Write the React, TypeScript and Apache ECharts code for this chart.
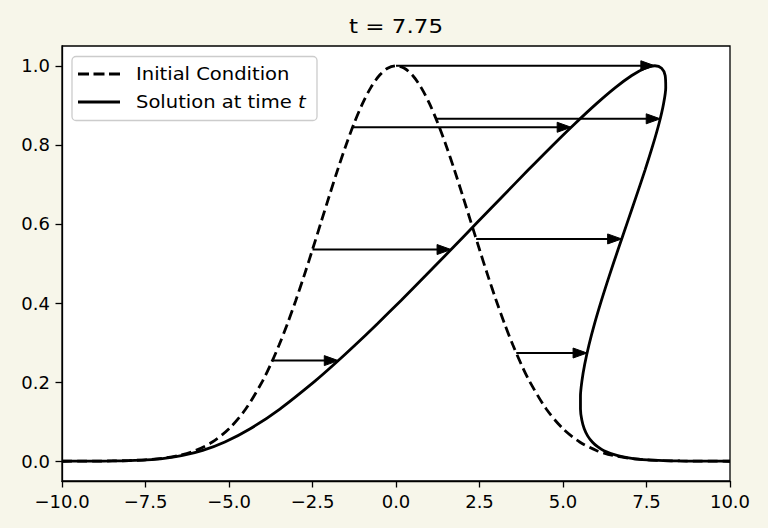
import React, { useEffect, useRef } from "react";
import * as echarts from "echarts";

// Initial condition u0(x) sampled along x
const icX = [
  -10, -9.5, -9, -8.5, -8, -7.5, -7, -6.5, -6, -5.5, -5, -4.5, -4, -3.75, -3.5, -3.25, -3, -2.75, -2.5,
  -2.25, -2, -1.75, -1.5, -1.25, -1, -0.75, -0.5, -0.25, 0, 0.25, 0.5, 0.75, 1, 1.25, 1.5, 1.75, 2, 2.25,
  2.5, 2.75, 3, 3.25, 3.5, 3.75, 4, 4.5, 5, 5.5, 6, 6.5, 7, 7.5, 8, 8.5, 9, 9.5, 10,
];
const icU = [
  0.0, 0.0001, 0.0003, 0.0007, 0.0017, 0.0036, 0.0074, 0.0146, 0.0273, 0.0486, 0.0821, 0.132, 0.2019,
  0.2451, 0.2938, 0.3478, 0.4066, 0.4694, 0.5353, 0.6028, 0.6703, 0.7362, 0.7985, 0.8553, 0.9048, 0.9453,
  0.9753, 0.9938, 1.0, 0.9938, 0.9753, 0.9453, 0.9048, 0.8553, 0.7985, 0.7362, 0.6703, 0.6028, 0.5353,
  0.4694, 0.4066, 0.3478, 0.2938, 0.2451, 0.2019, 0.132, 0.0821, 0.0486, 0.0273, 0.0146, 0.0074, 0.0036,
  0.0017, 0.0007, 0.0003, 0.0001, 0.0,
];

// Solution at time t (multi-valued curve, points in path order)
const solX = [
  -10.0, -9.499, -8.998, -8.495, -7.987, -7.472, -6.943, -6.387, -5.788, -5.123, -4.364, -3.477, -2.435,
  -1.85, -1.223, -0.555, 0.151, 0.888, 1.649, 2.422, 3.195, 3.956, 4.688, 5.379, 6.012, 6.576, 7.059,
  7.452, 7.75, 7.952, 8.059, 8.076, 8.012, 7.879, 7.688, 7.456, 7.195, 6.922, 6.649, 6.388, 6.151, 5.945,
  5.777, 5.65, 5.565, 5.523, 5.523, 5.562, 5.636, 5.742, 5.877, 6.034, 6.212, 6.613, 7.057, 7.528, 8.013,
  8.505, 9.002, 9.5, 10.0,
];
const solU = [
  0.0, 0.0001, 0.0003, 0.0007, 0.0017, 0.0036, 0.0074, 0.0146, 0.0273, 0.0486, 0.0821, 0.132, 0.2019,
  0.2451, 0.2938, 0.3478, 0.4066, 0.4694, 0.5353, 0.6028, 0.6703, 0.7362, 0.7985, 0.8553, 0.9048, 0.9453,
  0.9753, 0.9938, 1.0, 0.9938, 0.9753, 0.9453, 0.9048, 0.8553, 0.7985, 0.7362, 0.6703, 0.6028, 0.5353,
  0.4694, 0.4066, 0.3478, 0.2938, 0.2451, 0.2019, 0.1643, 0.132, 0.1048, 0.0821, 0.0635, 0.0486, 0.0367,
  0.0273, 0.0146, 0.0074, 0.0036, 0.0017, 0.0007, 0.0003, 0.0001, 0.0,
];

// Characteristic arrows: start x, height, end x
const arrowStartX = [-3.7, -2.5, -1.3, 0, 1.2, 2.4, 3.6];
const arrowY = [0.2544, 0.5353, 0.8445, 1.0, 0.8659, 0.5621, 0.2736];
const arrowEndX = [-1.728, 1.649, 5.245, 7.75, 7.911, 6.756, 5.721];

const yTicks = [0, 0.2, 0.4, 0.6, 0.8, 1.0];
const titleText = "t = 7.75";
const legendInitial = "Initial Condition";
const legendSolution = "Solution at time ";
const legendSolutionVar = "t";

const FONT = "DejaVu Sans";

export default function App() {
  const ref = useRef<HTMLDivElement>(null);

  useEffect(() => {
    if (!ref.current) return;
    const chart = echarts.init(ref.current, undefined, { renderer: "svg" });

    const fmtX = (v: number) => (v < 0 ? "\u2212" + Math.abs(v).toFixed(1) : v.toFixed(1));

    chart.setOption({
      animation: false,
      backgroundColor: "#f7f6ea",
      grid: {
        left: 62,
        right: 38,
        top: 46,
        bottom: 47,
        show: true,
        backgroundColor: "#ffffff",
        borderColor: "#000000",
        borderWidth: 1.3,
      },
      xAxis: {
        type: "value",
        min: -10,
        max: 10,
        interval: 2.5,
        axisLine: { show: true, onZero: false, lineStyle: { color: "#000", width: 1.3 } },
        axisTick: { show: true, inside: false, length: 6.5, lineStyle: { color: "#000", width: 1.3 } },
        axisLabel: {
          color: "#000",
          fontFamily: FONT,
          fontSize: 18,
          margin: 11,
          formatter: fmtX,
        },
        splitLine: { show: false },
      },
      yAxis: {
        type: "value",
        min: -0.05,
        max: 1.05,
        axisLine: { show: true, onZero: false, lineStyle: { color: "#000", width: 1.3 } },
        axisTick: {
          show: true,
          inside: false,
          length: 6.5,
          customValues: yTicks,
          lineStyle: { color: "#000", width: 1.3 },
        },
        axisLabel: {
          color: "#000",
          fontFamily: FONT,
          fontSize: 18,
          margin: 12,
          customValues: yTicks,
          formatter: (v: number) => v.toFixed(1),
        },
        splitLine: { show: false },
      },
      series: [
        {
          name: legendInitial,
          type: "line",
          data: icX.map((x, i) => [x, icU[i]]),
          showSymbol: false,
          symbol: "none",
          smooth: 0.3,
          lineStyle: { color: "#000", width: 2.8, type: [10, 5] },
          z: 2,
          silent: true,
        },
        {
          name: legendSolution + legendSolutionVar,
          type: "line",
          data: solX.map((x, i) => [x, solU[i]]),
          showSymbol: false,
          symbol: "none",
          smooth: 0.3,
          lineStyle: { color: "#000", width: 2.8 },
          z: 2,
          silent: true,
        },
        {
          type: "custom",
          data: arrowStartX.map((x, i) => [x, arrowY[i], arrowEndX[i]]),
          encode: { x: [0, 2], y: 1 },
          z: 3,
          silent: true,
          renderItem: (_params: any, api: any) => {
            const p0 = api.coord([api.value(0), api.value(1)]);
            const p1 = api.coord([api.value(2), api.value(1)]);
            const headL = 14;
            const headW = 10;
            return {
              type: "group",
              children: [
                {
                  type: "line",
                  shape: { x1: p0[0], y1: p0[1], x2: p1[0] - headL + 1, y2: p1[1] },
                  style: { stroke: "#000", lineWidth: 2 },
                },
                {
                  type: "polygon",
                  shape: {
                    points: [
                      [p1[0], p1[1]],
                      [p1[0] - headL, p1[1] - headW / 2],
                      [p1[0] - headL, p1[1] + headW / 2],
                    ],
                  },
                  style: { fill: "#000", stroke: "#000", lineWidth: 1 },
                },
              ],
            };
          },
        },
      ],
      graphic: [
        {
          type: "text",
          x: 396,
          y: 26,
          scaleX: 1.15,
          style: {
            text: titleText,
            fontFamily: FONT,
            fontSize: 20,
            fill: "#000",
            align: "center",
            verticalAlign: "middle",
          },
          z: 10,
        },
        {
          type: "rect",
          shape: { x: 72, y: 56.5, width: 245, height: 64, r: 4 },
          style: { fill: "rgba(255,255,255,0.8)", stroke: "#cccccc", lineWidth: 1.3 },
          z: 10,
        },
        {
          type: "line",
          shape: { x1: 78, y1: 74, x2: 120, y2: 74 },
          style: { stroke: "#000", lineWidth: 2.8, lineDash: [11, 4.5] },
          z: 11,
        },
        {
          type: "text",
          x: 136,
          y: 74,
          scaleX: 1.15,
          style: {
            text: legendInitial,
            fontFamily: FONT,
            fontSize: 17,
            fill: "#000",
            align: "left",
            verticalAlign: "middle",
          },
          z: 11,
        },
        {
          type: "line",
          shape: { x1: 78, y1: 102, x2: 120, y2: 102 },
          style: { stroke: "#000", lineWidth: 2.8 },
          z: 11,
        },
        {
          type: "text",
          x: 136,
          y: 102,
          scaleX: 1.15,
          style: {
            text: "{n|" + legendSolution + "}{i|" + legendSolutionVar + "}",
            fontFamily: FONT,
            fontSize: 17,
            fill: "#000",
            align: "left",
            verticalAlign: "middle",
            rich: {
              n: { fontFamily: FONT, fontSize: 17, fill: "#000" },
              i: { fontFamily: FONT, fontSize: 17, fontStyle: "italic", fill: "#000" },
            },
          },
          z: 11,
        },
      ],
    });

    return () => chart.dispose();
  }, []);

  return (
    <div
      ref={ref}
      style={{ position: "fixed", left: 0, top: 0, width: 768, height: 528 }}
    />
  );
}
